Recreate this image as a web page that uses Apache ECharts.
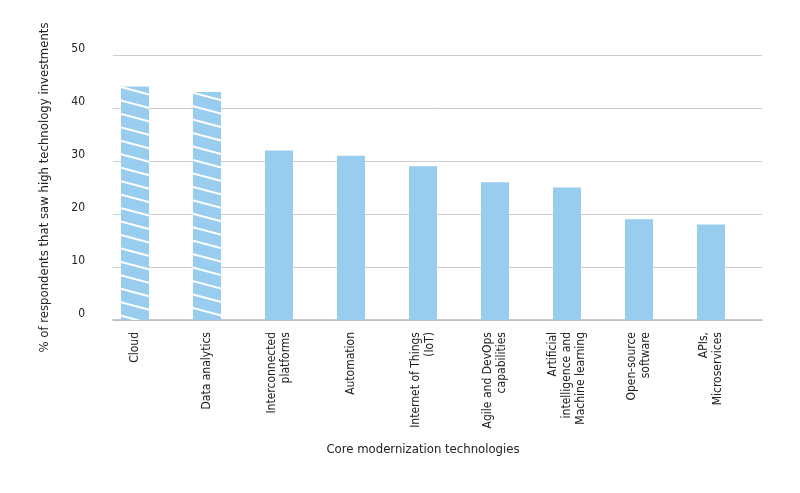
<!DOCTYPE html><html><head><meta charset="utf-8">
<script src="https://cdn.jsdelivr.net/npm/echarts@6/dist/echarts.min.js"></script>
<style>html,body{margin:0;background:#fff}#c{width:800px;height:493px}</style></head><body><div id="c"></div>
<script>
const categories=["Cloud","Data analytics","Interconnected\nplatforms","Automation","Internet of Things\n(IoT)","Agile and DevOps\ncapabilities","Artificial\nintelligence and\nMachine learning","Open-source\nsoftware","APIs,\nMicroservices"];
const values=[44,43,32,31,29,26,25,19,18];
const hatched=[true,true,false,false,false,false,false,false,false];
const yTicks=[0,10,20,30,40,50];
const F='"Liberation Sans Narrow","DejaVu Sans Condensed",sans-serif';
const chart=echarts.init(document.getElementById('c'));
const hatch={color:'#ffffff',backgroundColor:'#99cdef',symbol:'rect',symbolSize:1,dashArrayX:[1,0],dashArrayY:[1.5,11],rotation:0.26};
chart.setOption({
 animation:false,
 grid:[{left:113,right:38,top:55,bottom:173},{left:99,right:53,top:55,bottom:173}],
 xAxis:[{gridIndex:0,type:'category',data:categories,axisTick:{show:false},axisLabel:{show:false},axisLine:{lineStyle:{color:'#bbbbbb',width:1.5}}},
  {gridIndex:1,type:'category',data:categories,axisTick:{show:false},axisLine:{show:false},
   axisLabel:{rotate:90,interval:0,fontFamily:F,fontSize:12,color:'#222',align:'right',margin:12,lineHeight:14},
   name:'Core modernization technologies',nameLocation:'middle',nameGap:123,nameTextStyle:{fontFamily:F,fontSize:13,color:'#222'}}],
 yAxis:[{gridIndex:0,type:'value',min:yTicks[0],max:yTicks[yTicks.length-1],interval:10,axisLine:{show:false},axisTick:{show:false},
   splitLine:{lineStyle:{color:'#cccccc'}},axisLabel:{fontFamily:F,fontSize:12,color:'#222',margin:28,verticalAlign:'bottom'},
   name:'% of respondents that saw high technology investments',nameLocation:'middle',nameGap:62,nameRotate:90,nameTextStyle:{fontFamily:F,fontSize:13,color:'#222'}},
  {gridIndex:1,type:'value',min:0,max:50,interval:10,show:false}],
 series:[{type:'bar',xAxisIndex:1,yAxisIndex:1,barWidth:28,
   data:values.map((v,i)=>{const o={value:v,itemStyle:{color:'#99cdef'}};if(hatched[i])o.itemStyle.decal=hatch;return o;})}]
});
</script></body></html>
